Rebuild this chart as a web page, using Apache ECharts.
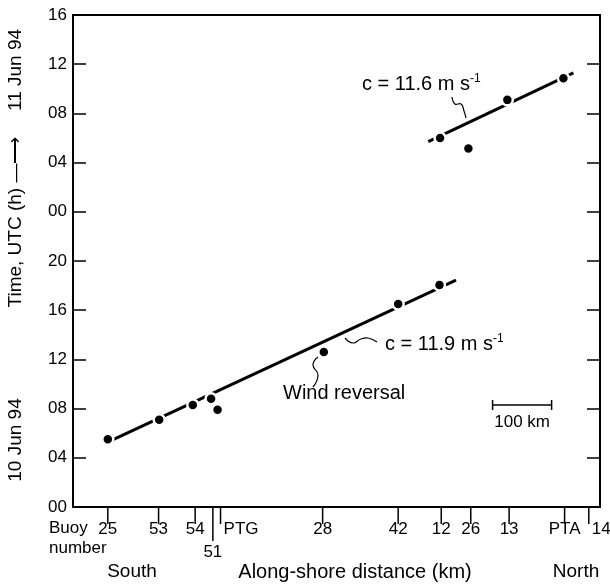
<!DOCTYPE html>
<html>
<head>
<meta charset="utf-8">
<script src="https://cdn.jsdelivr.net/npm/echarts@6/dist/echarts.min.js"></script>
<style>
html, body { margin: 0; padding: 0; background: #fff; }
#chart { width: 610px; height: 586px; }
</style>
</head>
<body>
<div id="chart"></div>
<script>
// buoy positions along the shore, km north of buoy 25
var buoyNames = ['25', '53', '54', '51', 'PTG', '28', '42', '12', '26', '13', 'PTA', '14'];
var buoyKm = [0, 86, 148, 178, 191, 364, 492, 565, 615, 680, 774, 815];

// arrival of the wind reversal, hours after 00 UTC 10 Jun 94
var obsKm = [0, 87, 144, 175, 186, 366, 492, 562, 563, 611, 677, 772];
var obsHour = [5.5, 7.1, 8.3, 8.8, 7.9, 12.6, 16.5, 18.05, 30.0, 29.15, 33.1, 34.85];

// fitted propagation lines
var fitSouthKm = [8, 590];
var fitSouthHour = [5.45, 18.45];
var fitNorthKm = [543, 789];
var fitNorthHour = [29.7, 35.3];

var yTickLabels = ['00', '04', '08', '12', '16', '20', '00', '04', '08', '12', '16'];

var FONT = 'Liberation Sans, Arial, Helvetica, sans-serif';

var chart = echarts.init(document.getElementById('chart'));

function pairs(xs, ys) {
    var out = [];
    for (var i = 0; i < xs.length; i++) out.push([xs[i], ys[i]]);
    return out;
}

var option = {
    animation: false,
    backgroundColor: '#fff',
    grid: { left: 73, right: 10, top: 15, bottom: 79 },
    xAxis: [
        {
            type: 'value', min: -59, max: 834, position: 'bottom',
            axisLine: { onZero: false, lineStyle: { color: '#000', width: 2 } },
            axisTick: { show: false }, axisLabel: { show: false }, splitLine: { show: false }
        },
        {
            type: 'value', min: -59, max: 834, position: 'top',
            axisLine: { onZero: false, lineStyle: { color: '#000', width: 2 } },
            axisTick: { show: false }, axisLabel: { show: false }, splitLine: { show: false }
        }
    ],
    yAxis: [
        {
            type: 'value', min: 0, max: 40, interval: 4, position: 'left',
            axisLine: { show: true, onZero: false, lineStyle: { color: '#000', width: 2 } },
            axisTick: { show: true, inside: true, length: 13, lineStyle: { color: '#000', width: 1.5 } },
            axisLabel: {
                margin: 6, color: '#000', fontSize: 17, fontFamily: FONT,
                formatter: function (v) { return yTickLabels[Math.round(v / 4)]; }
            },
            splitLine: { show: false }
        },
        {
            type: 'value', min: 0, max: 40, interval: 4, position: 'right',
            axisLine: { show: true, onZero: false, lineStyle: { color: '#000', width: 2 } },
            axisTick: { show: true, inside: true, length: 13, lineStyle: { color: '#000', width: 1.5 } },
            axisLabel: { show: false },
            splitLine: { show: false }
        }
    ],
    series: [
        {
            type: 'line', data: pairs(fitSouthKm, fitSouthHour), symbol: 'none',
            lineStyle: { color: '#000', width: 3 }, z: 2
        },
        {
            type: 'line', data: pairs(fitNorthKm, fitNorthHour), symbol: 'none',
            lineStyle: { color: '#000', width: 3 }, z: 2
        },
        {
            type: 'scatter', data: pairs(obsKm, obsHour), symbolSize: 11,
            itemStyle: { color: '#000', borderColor: '#fff', borderWidth: 2.5, opacity: 1 },
            z: 5
        },
        {
            type: 'custom', clip: false, silent: true,
            data: buoyKm.map(function (k) { return [k, 0]; }),
            renderItem: function (params, api) {
                var name = buoyNames[params.dataIndex];
                var p = api.coord([api.value(0), 0]);
                var isLong = name === '51';
                var len = isLong ? 34 : 17;
                var tx = p[0], ty = p[1] + 22, align = 'center';
                if (isLong) ty = p[1] + 45;
                if (name === 'PTG' || name === '14') { tx = p[0] + 3; align = 'left'; }
                return {
                    type: 'group',
                    children: [
                        { type: 'line', shape: { x1: p[0], y1: p[1], x2: p[0], y2: p[1] + len },
                          style: { stroke: '#000', lineWidth: 1.5 } },
                        { type: 'text', x: tx, y: ty,
                          style: { text: name, align: align, verticalAlign: 'middle',
                                   fontSize: 17, fontFamily: FONT, fill: '#000' } }
                    ]
                };
            }
        }
    ]
};

chart.setOption(option);

// scale bar: 100 km measured on the x axis
var barStart = chart.convertToPixel({ xAxisIndex: 0 }, 652);
var barEnd = chart.convertToPixel({ xAxisIndex: 0 }, 752);
var barY = 405;

function txt(x, y, text, size, align, extra) {
    var el = {
        type: 'text', x: x, y: y,
        style: { text: text, fontSize: size, fontFamily: FONT, fill: '#000',
                 align: align || 'left', verticalAlign: 'middle' }
    };
    if (extra) for (var k in extra) el.style[k] = extra[k];
    return el;
}
function vtxt(x, y, text) {
    var el = txt(x, y, text, 19, 'center');
    el.rotation = Math.PI / 2;
    return el;
}
function squiggle(pts) {
    return { type: 'polyline', shape: { points: pts, smooth: 0.5 },
             style: { stroke: '#000', lineWidth: 1.2, fill: null } };
}
var rich = { sup: { fontSize: 12, fontFamily: FONT, verticalAlign: 'top', padding: [0, 0, 10, 0] } };

chart.setOption({
    graphic: [
        vtxt(16, 70, '11 Jun 94'),
        vtxt(16, 222, 'Time, UTC (h) \u2014\u27F6'),
        vtxt(16, 440, '10 Jun 94'),
        txt(49, 528, 'Buoy', 17),
        txt(49, 548, 'number', 17),
        txt(132, 572, 'South', 19, 'center'),
        txt(355, 572, 'Along-shore distance (km)', 20, 'center'),
        txt(576, 572, 'North', 19, 'center'),
        txt(362, 84, 'c = 11.6 m s{sup|-1}', 20, 'left', { rich: rich }),
        txt(385, 344, 'c = 11.9 m s{sup|-1}', 20, 'left', { rich: rich }),
        txt(283, 393, 'Wind reversal', 20, 'left'),
        squiggle([[452, 97], [455, 104], [461, 104], [464, 111], [466, 118]]),
        squiggle([[345, 338], [353, 343], [361, 339], [368, 338], [377, 342]]),
        squiggle([[318, 357], [313, 365], [318, 375], [313, 387]]),
        { type: 'line', shape: { x1: barStart, y1: barY, x2: barEnd, y2: barY }, style: { stroke: '#000', lineWidth: 1.5 } },
        { type: 'line', shape: { x1: barStart, y1: barY - 5, x2: barStart, y2: barY + 5 }, style: { stroke: '#000', lineWidth: 1.5 } },
        { type: 'line', shape: { x1: barEnd, y1: barY - 5, x2: barEnd, y2: barY + 5 }, style: { stroke: '#000', lineWidth: 1.5 } },
        txt((barStart + barEnd) / 2, 422, '100 km', 17, 'center')
    ]
});
</script>
</body>
</html>
